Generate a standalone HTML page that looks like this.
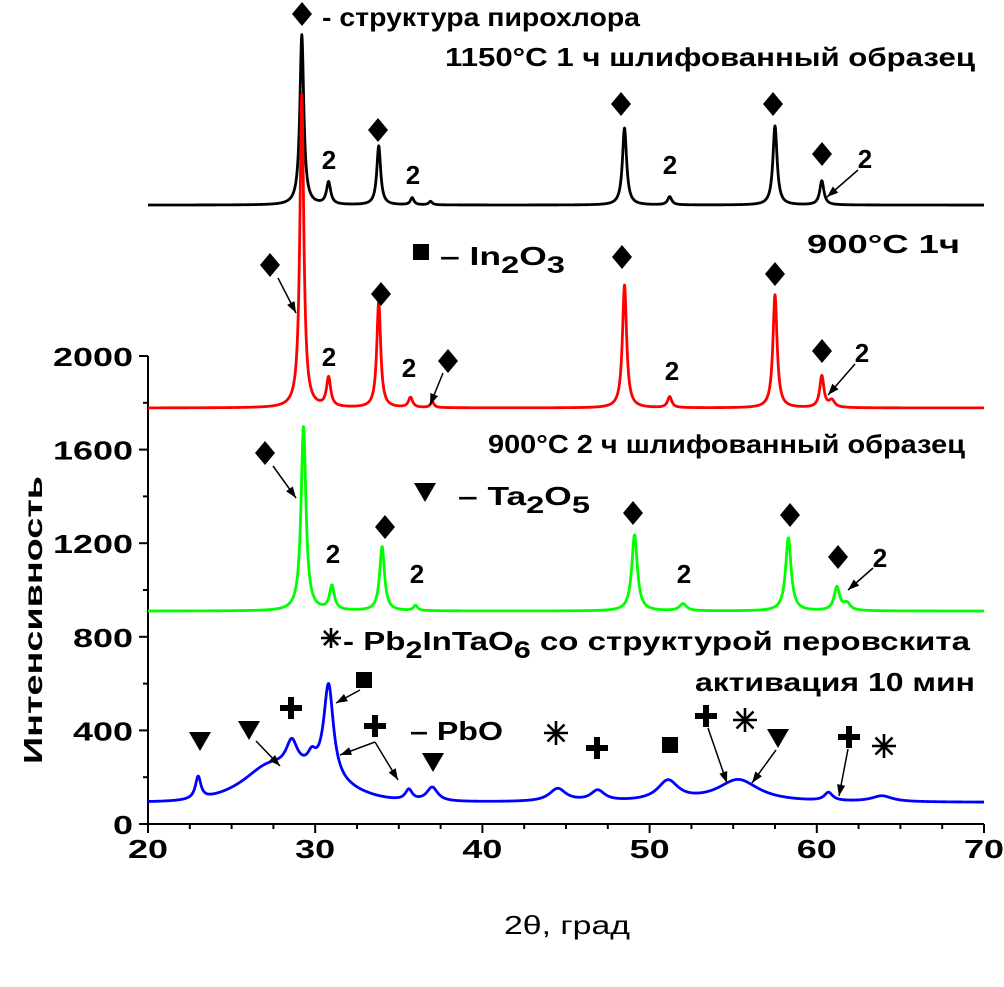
<!DOCTYPE html>
<html><head><meta charset="utf-8">
<style>
html,body{margin:0;padding:0;background:#fff;}
svg{display:block;font-family:"Liberation Sans",sans-serif;}
.t{font-size:26px;fill:#000;}
.b{font-weight:bold;}
</style></head>
<body>
<svg id="chart" width="1004" height="987" viewBox="0 0 1004 987">
<g id="axes"></g>
<g id="series"></g>
<g id="annot"></g>
</svg>
<script>
// ---- data ----
const xTicks = [20,30,40,50,60,70];
const yTicks = [0,400,800,1200,1600,2000];
// black: 1150°C 1 h
const blackBase = 2645;
const blackPos = [29.2,30.8,33.8,35.8,36.9,48.5,51.2,57.5,60.3];
const blackAmp = [727,95,252,30,15,329,35,338,103];
const blackWid = [0.28,0.3,0.28,0.25,0.25,0.3,0.3,0.3,0.3];
// red: 900°C 1 h
const redBase = 1778;
const redPos = [29.2,30.8,33.8,35.7,37.0,48.5,51.2,57.5,60.3,60.9];
const redAmp = [1337,124,453,43,25,525,47,483,135,30];
const redWid = [0.28,0.3,0.28,0.3,0.25,0.3,0.3,0.3,0.3,0.4];
// green: 900°C 2 h
const greenBase = 910;
const greenPos = [29.3,31.0,34.0,36.0,49.1,52.0,58.3,61.2,61.8];
const greenAmp = [787,103,274,22,325,30,312,100,30];
const greenWid = [0.35,0.35,0.35,0.3,0.4,0.5,0.4,0.4,0.5];
// blue: activation 10 min
const blueBase = 92;
const bluePos = [23.0,27.0,28.6,29.8,30.8,35.6,37.0,44.5,46.9,51.1,55.3,60.7,63.9,28.8];
const blueAmp = [95,55,110,55,400,45,60,55,45,85,95,35,25,125];
const blueWid = [0.4,3.0,0.8,0.6,0.7,0.5,0.8,1.2,1.0,1.5,3.0,0.6,1.5,6.0];

// ---- scales ----
const X0=148,X1=984,Y0=824,Y1=356;
function sx(v){return X0+(v-20)*(X1-X0)/50;}
function sy(v){return Y0-(v-0)*(Y0-Y1)/2000;}
const NS="http://www.w3.org/2000/svg";
function mk(tag,attrs,parent){const e=document.createElementNS(NS,tag);for(const k in attrs)e.setAttribute(k,attrs[k]);parent.appendChild(e);return e;}

const axes=document.getElementById('axes');
const xl=mk('line',{x1:X0,y1:Y0,x2:X1,y2:Y0,stroke:'#000','stroke-width':2},axes);


const yl=mk('line',{x1:X0,y1:Y0,x2:X0,y2:Y1,stroke:'#000','stroke-width':2},axes);


for(let v=20;v<=70;v+=2.5){
  const major=(v%10===0);
  const tk=mk('line',{x1:sx(v),y1:Y0,x2:sx(v),y2:Y0+(major?9:5),stroke:'#000','stroke-width':2},axes);
  
  
}
xTicks.forEach(v=>{
  const t=mk('text',{x:sx(v),y:858,'text-anchor':'middle',class:'t b','font-size':'29',textLength:'40',lengthAdjust:'spacingAndGlyphs'},axes);
  t.textContent=v;
  
  
});
for(let v=0;v<=2000;v+=200){
  const major=(v%400===0);
  const tk=mk('line',{x1:X0,y1:sy(v),x2:X0-(major?9:5),y2:sy(v),stroke:'#000','stroke-width':2},axes);
  
  
}
yTicks.forEach(v=>{
  const s=String(v);
  const t=mk('text',{x:133,y:sy(v)+10,'text-anchor':'end',class:'t b','font-size':'29',textLength:String(s.length*20),lengthAdjust:'spacingAndGlyphs'},axes);
  t.textContent=s;
  
  
});
const xt=mk('text',{x:567,y:934,'text-anchor':'middle',class:'t','font-size':'32',textLength:'126',lengthAdjust:'spacingAndGlyphs'},axes);
xt.textContent='2θ, град';


const yt=mk('text',{x:0,y:0,'text-anchor':'middle',class:'t b','font-size':'36',transform:'translate(42,620) rotate(-90)',textLength:'288',lengthAdjust:'spacingAndGlyphs'},axes);
yt.textContent='Интенсивность';



// ---- series ----
const ser=document.getElementById('series');
function profile(base,pos,amp,wid,x){
  let y=base;
  for(let i=0;i<pos.length;i++){
    const h=wid[i]/2, d=x-pos[i];
    if(wid[i]>=5){ y+=amp[i]*Math.exp(-4*Math.LN2*(d/wid[i])*(d/wid[i])); }
    else { y+=amp[i]/(1+(d/h)*(d/h)); }
  }
  return y;
}
function drawSeries(name,color,base,pos,amp,wid){
  let d='';
  for(let x=20;x<=70.0001;x+=0.02){
    const v=profile(base,pos,amp,wid,x);
    d+=(d?'L':'M')+sx(x).toFixed(2)+','+sy(v).toFixed(2);
  }
  const p=mk('path',{d:d,fill:'none',stroke:color,'stroke-width':2.8,'stroke-linejoin':'round'},ser);
  
  
}
drawSeries('series-1150c-1h','#000',blackBase,blackPos,blackAmp,blackWid);
drawSeries('series-900c-1h','#f00',redBase,redPos,redAmp,redWid);
drawSeries('series-900c-2h','#0f0',greenBase,greenPos,greenAmp,greenWid);
drawSeries('series-activation-10min','#00f',blueBase,bluePos,blueAmp,blueWid);

// ---- annotations ----
const an=document.getElementById('annot');
function txt(x,y,s,size,bold,name,len,anchor){
  const a={x:x,y:y,class:'t'+(bold?' b':''),'font-size':size};
  if(len){a.textLength=len;a.lengthAdjust='spacingAndGlyphs';}
  if(anchor)a['text-anchor']=anchor;
  const t=mk('text',a,an);t.innerHTML=s;
  
  
  return t;
}
function dia(x,y){const p=mk('path',{d:`M${x},${y-12}L${x+10},${y}L${x},${y+12}L${x-10},${y}Z`,fill:'#000'},an);
  
  }
function two(x,y){txt(x,y+11,'2',28,true,'label-2',null,'middle');}
function sq(x,y){const r=mk('rect',{x:x-8,y:y-8,width:16,height:16,fill:'#000'},an);
  
  }
function tri(x,y){const p=mk('path',{d:`M${x-11},${y-9}L${x+11},${y-9}L${x},${y+10}Z`,fill:'#000'},an);
  
  }
function plus(x,y){const p=mk('path',{d:`M${x-11},${y}H${x+11}M${x},${y-11}V${y+11}`,stroke:'#000','stroke-width':6},an);
  
  }
function star(x,y,r){r=r||12;let d='';
  for(let k=0;k<4;k++){const a=Math.PI/4*k;d+=`M${x-r*Math.sin(a)},${y-r*Math.cos(a)}L${x+r*Math.sin(a)},${y+r*Math.cos(a)}`;}
  const p=mk('path',{d:d,stroke:'#000','stroke-width':2.6},an);
  
  }
function arr(x1,y1,x2,y2){
  const l=mk('line',{x1:x1,y1:y1,x2:x2,y2:y2,stroke:'#000','stroke-width':1.5},an);
  
  
  const a=Math.atan2(y2-y1,x2-x1),L=12,w=0.35;
  const h=mk('path',{d:`M${x2},${y2}L${x2-L*Math.cos(a-w)},${y2-L*Math.sin(a-w)}L${x2-L*Math.cos(a+w)},${y2-L*Math.sin(a+w)}Z`,fill:'#000'},an);
  
  
}
// black
dia(302,14);
txt(322,26,'- структура пирохлора',28,true,'legend-pyrochlore',318);
txt(445,66,'1150°C 1 ч шлифованный образец',28,true,'label-1150c',530);
two(329,158);dia(378,130);two(413,173);dia(621,104);two(670,163);dia(773,104);dia(822,154);two(865,157);
arr(858,170,827,197);
// red
sq(421,252);
txt(440,265,'– In<tspan font-size="24" dy="8">2</tspan><tspan dy="-8">O</tspan><tspan font-size="24" dy="8">3</tspan>',32,true,'legend-in2o3',125);
txt(807,253,'900°C 1ч',28,true,'label-900c-1h',153);
dia(270,265);arr(278,278,296,313);
two(329,355);dia(381,294);two(409,366);dia(448,361);arr(443,373,430,405);
dia(622,257);two(672,369);dia(775,274);dia(822,351);two(862,351);arr(855,364,828,395);
// green
txt(488,453,'900°C 2 ч шлифованный образец',28,true,'label-900c-2h',477);
tri(425,492);
txt(458,505,'– Ta<tspan font-size="24" dy="8">2</tspan><tspan dy="-8">O</tspan><tspan font-size="24" dy="8">5</tspan>',32,true,'legend-ta2o5',132);
dia(265,453);arr(273,466,296,498);
two(333,552);dia(385,527);two(417,572);dia(633,513);two(684,572);dia(790,515);dia(838,557);two(880,556);arr(873,568,848,590);
// blue
star(331,638,10);
txt(343,650,'- Pb<tspan font-size="24" dy="8">2</tspan><tspan dy="-8">InTaO</tspan><tspan font-size="24" dy="8">6</tspan><tspan dy="-8"> со структурой перовскита</tspan>',30,true,'legend-perovskite',627);
txt(695,691,'активация 10 мин',28,true,'label-activation',280);
tri(200,741);tri(249,730);arr(256,741,280,766);
plus(291,708);sq(364,680);arr(360,690,336,703);
plus(375,726);arr(375,742,340,755);arr(375,742,398,780);
txt(410,740,'– PbO',30,true,'legend-pbo',93);
tri(433,762);star(556,733);plus(597,748);sq(670,745);
plus(706,716);arr(708,728,727,783);star(745,720);
tri(778,738);arr(776,750,752,783);
plus(849,737);arr(848,749,839,796);star(884,746);
</script>
</body></html>
